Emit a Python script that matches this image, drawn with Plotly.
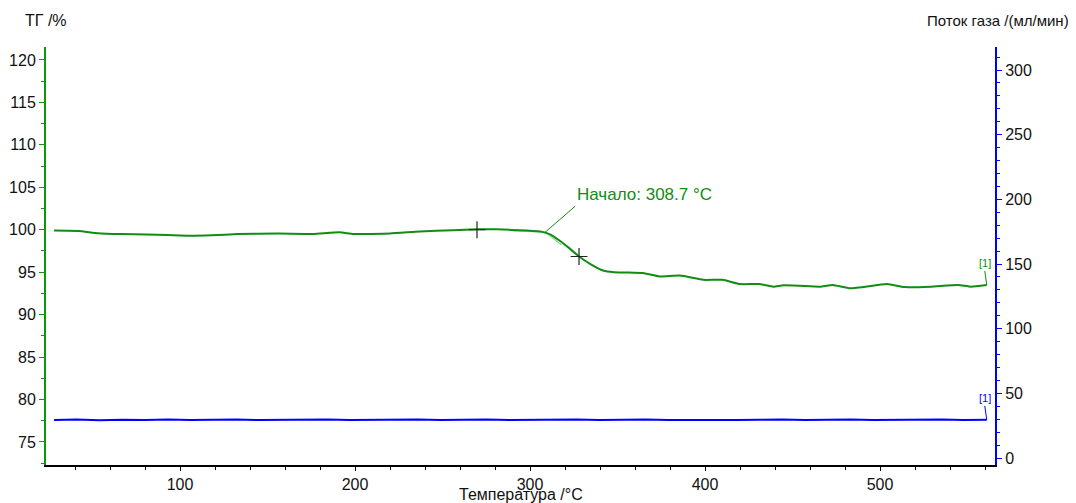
import plotly.graph_objects as go

# ---- data ----
temp_tg = [28, 42, 53, 66, 81, 104, 118, 133, 156, 176, 191, 199, 220, 237, 256, 270,
           281, 298, 307, 312, 317, 322, 328, 335, 341.7, 348, 355, 364.6, 374, 385.7,
           399, 410, 420, 431, 439, 444.6, 454, 465.7, 473, 483, 504, 513.7, 529, 544.6,
           552, 561]
tg = [99.9, 99.85, 99.6, 99.5, 99.45, 99.3, 99.35, 99.5, 99.55, 99.5, 99.7, 99.5,
      99.55, 99.8, 99.95, 100.05, 100.05, 99.9, 99.75, 99.4, 98.7, 97.9, 96.85, 95.9,
      95.2, 95.0, 94.97, 94.9, 94.5, 94.6, 94.1, 94.1, 93.6, 93.6, 93.3, 93.45, 93.4,
      93.3, 93.5, 93.1, 93.6, 93.25, 93.3, 93.5, 93.3, 93.5]

temp_flow = [28, 41, 54, 67, 80, 93, 106, 119, 132, 145, 158, 171, 184, 197, 210, 223,
             236, 249, 262, 275, 288, 301, 314, 327, 340, 353, 366, 379, 392, 405, 418,
             431, 444, 457, 470, 483, 496, 509, 522, 535, 548, 561]
flow = [29.4, 29.7, 29.2, 29.6, 29.4, 29.8, 29.3, 29.5, 29.7, 29.3, 29.6, 29.4, 29.8,
        29.3, 29.6, 29.4, 29.7, 29.3, 29.5, 29.8, 29.3, 29.6, 29.4, 29.7, 29.3, 29.5,
        29.8, 29.4, 29.3, 29.7, 29.4, 29.6, 29.8, 29.3, 29.5, 29.7, 29.3, 29.6, 29.4,
        29.7, 29.4, 29.5]

marker_t = [269.7, 328]
marker_tg = [100.0, 96.85]

onset_t = 308.7
onset_tg = 99.72
onset_label = "Начало: 308.7 °C"
tangent_t = [290, 308.7, 318]
tangent_tg = [99.86, 99.72, 98.2]

x_ticks = [100, 200, 300, 400, 500]
y_ticks = [75, 80, 85, 90, 95, 100, 105, 110, 115, 120]
y2_ticks = [0, 50, 100, 150, 200, 250, 300]

GREEN = "#128c12"
GREEN_AX = "#0a9a0a"
BLUE = "#0000ff"
FONT = "Liberation Sans, Arial, sans-serif"

fig = go.Figure()

fig.add_trace(go.Scatter(x=tangent_t, y=tangent_tg, mode="lines",
                         line=dict(color="#8fd88f", width=1.2),
                         showlegend=False, hoverinfo="skip"))
fig.add_trace(go.Scatter(x=temp_tg, y=tg, mode="lines",
                         line=dict(color=GREEN, width=2, shape="spline", smoothing=0.4),
                         showlegend=False, hoverinfo="skip"))
fig.add_trace(go.Scatter(x=temp_flow, y=flow, mode="lines", yaxis="y2",
                         line=dict(color=BLUE, width=2),
                         showlegend=False, hoverinfo="skip"))
fig.add_trace(go.Scatter(x=marker_t, y=marker_tg, mode="markers",
                         marker=dict(symbol="cross-thin", size=12,
                                     line=dict(color="#222222", width=1.2)),
                         showlegend=False, hoverinfo="skip"))

fig.add_annotation(x=onset_t, y=onset_tg, xref="x", yref="y", text=onset_label,
                   showarrow=True, arrowhead=0, arrowwidth=1, arrowcolor=GREEN,
                   ax=30, ay=-26, xanchor="left", yanchor="bottom",
                   font=dict(family=FONT, size=17, color=GREEN))

fig.add_annotation(x=temp_tg[-1], y=tg[-1], xref="x", yref="y", text="[1]",
                   showarrow=True, arrowhead=0, arrowwidth=1, arrowcolor=GREEN,
                   ax=-2, ay=-14, yanchor="bottom",
                   font=dict(family=FONT, size=11, color=GREEN))
fig.add_annotation(x=temp_flow[-1], y=flow[-1], xref="x", yref="y2", text="[1]",
                   showarrow=True, arrowhead=0, arrowwidth=1, arrowcolor=BLUE,
                   ax=-2, ay=-14, yanchor="bottom",
                   font=dict(family=FONT, size=11, color=BLUE))

# axis titles
fig.add_annotation(xref="paper", yref="paper", x=0, y=1, yshift=27, text="ТГ /%",
                   showarrow=False, xanchor="center", yanchor="middle",
                   font=dict(family=FONT, size=16, color="#111111"))
fig.add_annotation(xref="paper", yref="paper", x=1, y=1, xshift=76, yshift=27,
                   text="Поток газа /(мл/мин)", showarrow=False,
                   xanchor="right", yanchor="middle",
                   font=dict(family=FONT, size=15, color="#111111"))
fig.add_annotation(xref="paper", yref="paper", x=0.5, y=0, yshift=-29,
                   text="Температура /°C", showarrow=False,
                   xanchor="center", yanchor="middle",
                   font=dict(family=FONT, size=16, color="#111111"))

tickfont = dict(family=FONT, size=16, color="#111111")

fig.update_layout(
    width=1076, height=503,
    margin=dict(l=46, r=81, t=47, b=38, autoexpand=False),
    paper_bgcolor="white", plot_bgcolor="white",
    font=dict(family=FONT, size=16, color="#111111"),
    xaxis=dict(range=[23.4, 565.7], tickvals=x_ticks, showgrid=False, zeroline=False,
               automargin=False, tickfont=tickfont,
               showline=True, linecolor="#000000", linewidth=2,
               ticks="outside", ticklen=4, tickcolor="#000000",
               minor=dict(dtick=20, tick0=0, ticks="outside", ticklen=3,
                          tickcolor="#000000", showgrid=False)),
    yaxis=dict(range=[72.29, 121.53], tickvals=y_ticks, showgrid=False, zeroline=False,
               automargin=False, tickfont=tickfont,
               showline=True, linecolor=GREEN_AX, linewidth=2,
               ticks="outside", ticklen=5, tickcolor=GREEN_AX,
               minor=dict(dtick=2.5, tick0=0, ticks="outside", ticklen=3,
                          tickcolor=GREEN_AX, showgrid=False)),
    yaxis2=dict(range=[-5.4, 317.8], tickvals=y2_ticks, overlaying="y", side="right",
                automargin=False, tickfont=tickfont,
                showgrid=False, zeroline=False,
                showline=True, linecolor=BLUE, linewidth=2,
                ticks="outside", ticklen=5, tickcolor=BLUE,
                minor=dict(dtick=10, tick0=0, ticks="outside", ticklen=3,
                           tickcolor=BLUE, showgrid=False)),
)

fig.write_html("out.html", config={"displayModeBar": False},
               post_script="document.body.style.margin='0';document.body.style.padding='0';")
